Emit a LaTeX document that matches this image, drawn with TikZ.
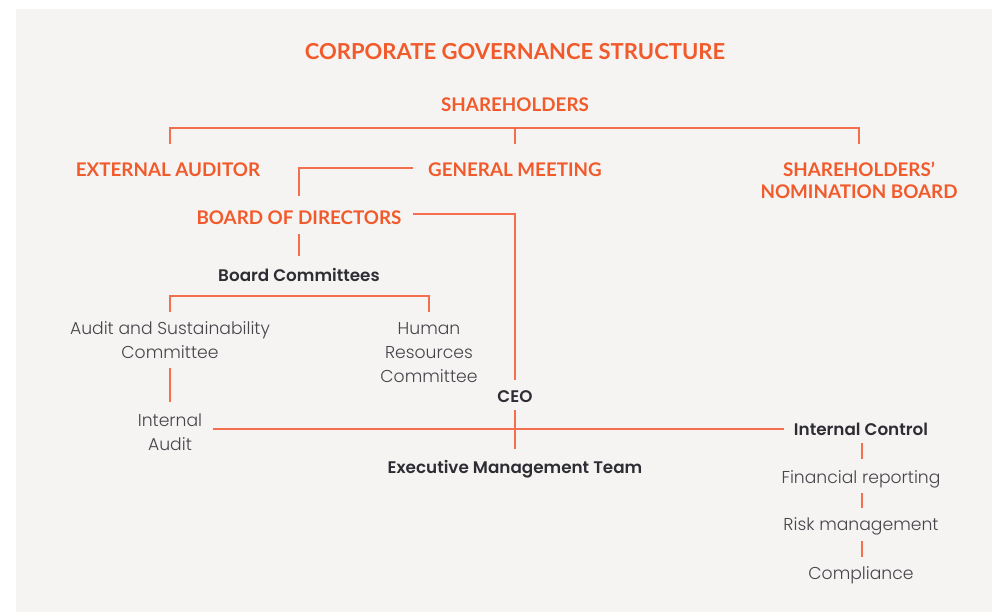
\documentclass[tikz,border=0pt]{standalone}
\usepackage{fontspec}
\setmainfont{Lato}
\newfontfamily\headfont{Lato}
\newfontfamily\popsemi{Poppins SemiBold}
\newfontfamily\poplight{Poppins Light}
\definecolor{bg}{HTML}{F6F4F2}
\definecolor{orangetxt}{HTML}{F15A2B}
\definecolor{orangeline}{HTML}{F36F4E}
\definecolor{darktxt}{HTML}{2D2D33}
\definecolor{greytxt}{HTML}{45454B}
\tikzset{
  title/.style={anchor=base,inner sep=0pt,text=orangetxt,font=\headfont\bfseries\fontsize{22}{22}\selectfont},
  head/.style={anchor=base,inner sep=0pt,text=orangetxt,align=center,font=\headfont\bfseries\fontsize{18.8}{22}\selectfont},
  darkbox/.style={anchor=base,inner sep=0pt,text=darktxt,align=center,font=\popsemi\fontsize{16.8}{24}\selectfont},
  lightbox/.style={anchor=base,inner sep=0pt,text=greytxt,align=center,font=\poplight\fontsize{17.2}{24}\selectfont},
  conn/.style={draw=orangeline,line width=1.1pt}
}
\begin{document}
\begin{tikzpicture}[x=1pt,y=-1pt]
\useasboundingbox (0,0) rectangle (992,612);
\fill[bg] (16,9) rectangle (992,612);

% nodes (anchor = baseline of the last line)
\node[title] (title) at (515,60) {CORPORATE GOVERNANCE STRUCTURE};
\node[head] (sh) at (515,112) {SHAREHOLDERS};
\node[head] (ea) at (168,177) {EXTERNAL AUDITOR};
\node[head] (gm) at (515,177) {GENERAL MEETING};
\node[head] (snb) at (859,199) {SHAREHOLDERS’\\NOMINATION BOARD};
\node[head] (bod) at (299,225) {BOARD OF DIRECTORS};
\node[darkbox] (bc) at (299,281) {Board Committees};
\node[lightbox] (asc) at (170,358) {Audit and Sustainability\\Committee};
\node[lightbox] (hrc) at (429,382) {Human\\Resources\\Committee};
\node[darkbox] (ceo) at (515,402) {CEO};
\node[lightbox] (ia) at (170,450) {Internal\\Audit};
\node[darkbox] (ic) at (861,435) {Internal Control};
\node[darkbox] (emt) at (515,473) {Executive Management Team};
\node[lightbox] (fr) at (861,483) {Financial reporting};
\node[lightbox] (rm) at (861,530) {Risk management};
\node[lightbox] (co) at (861,579) {Compliance};

% connector end points
\coordinate (shL) at (170,144);
\coordinate (shM) at (515,144);
\coordinate (shR) at (859,144);
\coordinate (shJ) at (515,128);
\coordinate (gmL) at (413,168);
\coordinate (bodT) at (299,196);
\coordinate (bodR) at (413,214);
\coordinate (ceoT) at (515,380);
\coordinate (bodB) at (299,234);
\coordinate (bcT) at (299,256);
\coordinate (bcL) at (170,312);
\coordinate (bcR) at (429,312);
\coordinate (bcJ) at (429,296);
\coordinate (ascB) at (170,368);
\coordinate (iaT) at (170,402);
\coordinate (iaR) at (213,429);
\coordinate (icL) at (784,429);
\coordinate (ceoB) at (515,410);
\coordinate (emtT) at (515,449);
\coordinate (icB) at (862,443);
\coordinate (frT) at (862,459);
\coordinate (frB) at (862,493);
\coordinate (rmT) at (862,508);
\coordinate (rmB) at (862,541);
\coordinate (coT) at (862,557);

% connectors
\draw[conn] (shL) |- (shJ) -| (shR);
\draw[conn] (shJ) -- (shM);
\draw[conn] (gmL) -| (bodT);
\draw[conn] (bodR) -| (ceoT);
\draw[conn] (bodB) -- (bcT);
\draw[conn] (bcL) |- (bcJ) -- (bcR);
\draw[conn] (ascB) -- (iaT);
\draw[conn] (iaR) -- (icL);
\draw[conn] (ceoB) -- (emtT);
\draw[conn] (icB) -- (frT);
\draw[conn] (frB) -- (rmT);
\draw[conn] (rmB) -- (coT);
\end{tikzpicture}
\end{document}
